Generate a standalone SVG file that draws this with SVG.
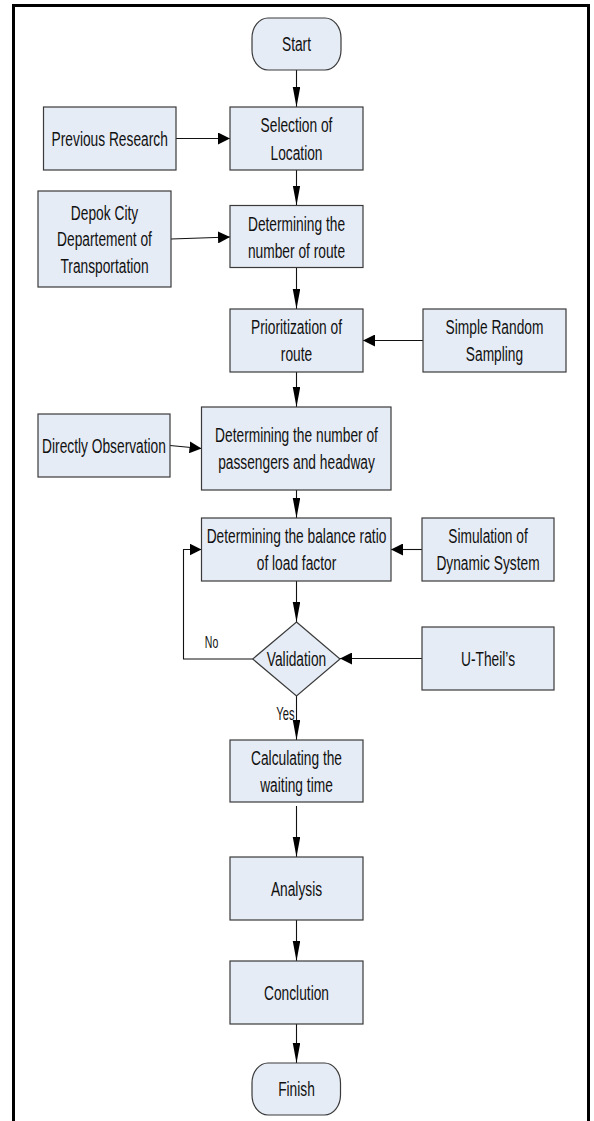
<svg xmlns="http://www.w3.org/2000/svg" width="594" height="1121" viewBox="0 0 594 1121">
<style>
.bx{fill:#E6ECF5;stroke:#3a3a3a;stroke-width:1.2}
.t{font-family:"Liberation Sans",Arial,sans-serif;font-size:21px;fill:#111;text-anchor:middle}
.s{font-family:"Liberation Sans",Arial,sans-serif;fill:#111}
.c{fill:none;stroke:#111;stroke-width:1.1}
.cv{marker-end:url(#av)}
.ch{marker-end:url(#ah)}
</style>
<defs>
<marker id="av" markerUnits="userSpaceOnUse" markerWidth="20" markerHeight="8" refX="20" refY="3.75" orient="auto"><path d="M0,0 L20,3.75 L0,7.5 z" fill="#000"/></marker>
<marker id="ah" markerUnits="userSpaceOnUse" markerWidth="12" markerHeight="12" refX="12" refY="6" orient="auto"><path d="M0,0 L12,6 L0,12 z" fill="#000"/></marker>
</defs>
<rect width="594" height="1121" fill="#fff"/>
<path d="M13.5,1121 V5.5 H588.5 V1121" fill="none" stroke="#000" stroke-width="3"/>

<g id="connectors">
<path class="c cv" d="M296.5,70 V107"/>
<path class="c cv" d="M296.5,170 V205.5"/>
<path class="c cv" d="M296.5,267.5 V309"/>
<path class="c cv" d="M296.5,372 V407"/>
<path class="c cv" d="M296.5,490 V518"/>
<path class="c cv" d="M296.5,581 V622"/>
<path class="c cv" d="M296.5,696 V740"/>
<path class="c cv" d="M296.5,806 V857"/>
<path class="c cv" d="M296.5,920 V961"/>
<path class="c cv" d="M296.5,1024 V1063"/>
<path class="c ch" d="M176,138.5 H230"/>
<path class="c ch" d="M171,239 L230,237"/>
<path class="c ch" d="M423,340.5 H363"/>
<path class="c ch" d="M170,445.5 L201.5,448.5"/>
<path class="c ch" d="M422,549.5 H391"/>
<path class="c ch" d="M422,658.5 H340"/>
<path class="c ch" d="M252.7,659 H183.5 V549.5 H201.5"/>
<text class="s" font-size="16" text-anchor="middle" transform="matrix(0.66 0 0 1 211.5 0)" x="0" y="648">No</text>
<text class="s" font-size="18" text-anchor="end" transform="matrix(0.62 0 0 1 294.5 0)" x="0" y="720">Yes</text>
</g>

<g id="start">
<rect class="bx" x="252" y="18" width="89" height="52" rx="16" ry="20"/>
<text class="t" transform="matrix(0.655 0 0 1 296.5 0)" x="0" y="51.5">Start</text>
</g>

<g id="previous-research">
<rect class="bx" x="43.5" y="107" width="132.5" height="63"/>
<text class="t" transform="matrix(0.655 0 0 1 109.7 0)" x="0" y="146">Previous Research</text>
</g>

<g id="selection">
<rect class="bx" x="230" y="107" width="133" height="63"/>
<text class="t" transform="matrix(0.655 0 0 1 296.5 0)"><tspan x="0" y="132.5">Selection of</tspan><tspan x="0" y="160">Location</tspan></text>
</g>

<g id="depok">
<rect class="bx" x="38" y="191" width="133" height="96"/>
<text class="t" transform="matrix(0.655 0 0 1 104.5 0)"><tspan x="0" y="220">Depok City</tspan><tspan x="0" y="246.5">Departement of</tspan><tspan x="0" y="273">Transportation</tspan></text>
</g>

<g id="number-of-route">
<rect class="bx" x="230" y="205.5" width="133" height="62"/>
<text class="t" transform="matrix(0.655 0 0 1 296.5 0)"><tspan x="0" y="231.5">Determining the</tspan><tspan x="0" y="258.5">number of route</tspan></text>
</g>

<g id="prioritization">
<rect class="bx" x="230" y="309" width="133" height="63"/>
<text class="t" transform="matrix(0.655 0 0 1 296.5 0)"><tspan x="0" y="334.5">Prioritization of</tspan><tspan x="0" y="361.5">route</tspan></text>
</g>

<g id="simple-random-sampling">
<rect class="bx" x="423" y="309" width="143" height="63"/>
<text class="t" transform="matrix(0.655 0 0 1 494.5 0)"><tspan x="0" y="334.5">Simple Random</tspan><tspan x="0" y="361.5">Sampling</tspan></text>
</g>

<g id="directly-observation">
<rect class="bx" x="38" y="414" width="132" height="63"/>
<text class="t" transform="matrix(0.655 0 0 1 104 0)" x="0" y="453">Directly Observation</text>
</g>

<g id="passengers-headway">
<rect class="bx" x="201.5" y="407" width="189.5" height="83"/>
<text class="t" transform="matrix(0.655 0 0 1 296.5 0)"><tspan x="0" y="442.5">Determining the number of</tspan><tspan x="0" y="469.5">passengers and headway</tspan></text>
</g>

<g id="balance-ratio">
<rect class="bx" x="201.5" y="518" width="189.5" height="63"/>
<text class="t" transform="matrix(0.655 0 0 1 296.5 0)"><tspan x="0" y="543.5">Determining the balance ratio</tspan><tspan x="0" y="570.5">of load factor</tspan></text>
</g>

<g id="simulation">
<rect class="bx" x="422" y="518" width="132" height="63"/>
<text class="t" transform="matrix(0.655 0 0 1 488 0)"><tspan x="0" y="543.5">Simulation of</tspan><tspan x="0" y="570.5">Dynamic System</tspan></text>
</g>

<g id="validation">
<path class="bx" d="M296.5,622 L340,659 L296.5,696 L252.7,659 z"/>
<text class="t" transform="matrix(0.655 0 0 1 296.5 0)" x="0" y="666">Validation</text>
</g>

<g id="u-theil">
<rect class="bx" x="422" y="627" width="132" height="63"/>
<text class="t" transform="matrix(0.655 0 0 1 488 0)" x="0" y="666">U-Theil’s</text>
</g>

<g id="waiting-time">
<rect class="bx" x="230" y="740" width="133" height="62"/>
<text class="t" transform="matrix(0.655 0 0 1 296.5 0)"><tspan x="0" y="765">Calculating the</tspan><tspan x="0" y="792">waiting time</tspan></text>
</g>

<g id="analysis">
<rect class="bx" x="230" y="857" width="133" height="63"/>
<text class="t" transform="matrix(0.655 0 0 1 296.5 0)" x="0" y="896">Analysis</text>
</g>

<g id="conclution">
<rect class="bx" x="230" y="961" width="133" height="63"/>
<text class="t" transform="matrix(0.655 0 0 1 296.5 0)" x="0" y="1000">Conclution</text>
</g>

<g id="finish">
<rect class="bx" x="252" y="1063" width="88.5" height="52" rx="16" ry="20"/>
<text class="t" transform="matrix(0.655 0 0 1 296.5 0)" x="0" y="1096.5">Finish</text>
</g>
</svg>
